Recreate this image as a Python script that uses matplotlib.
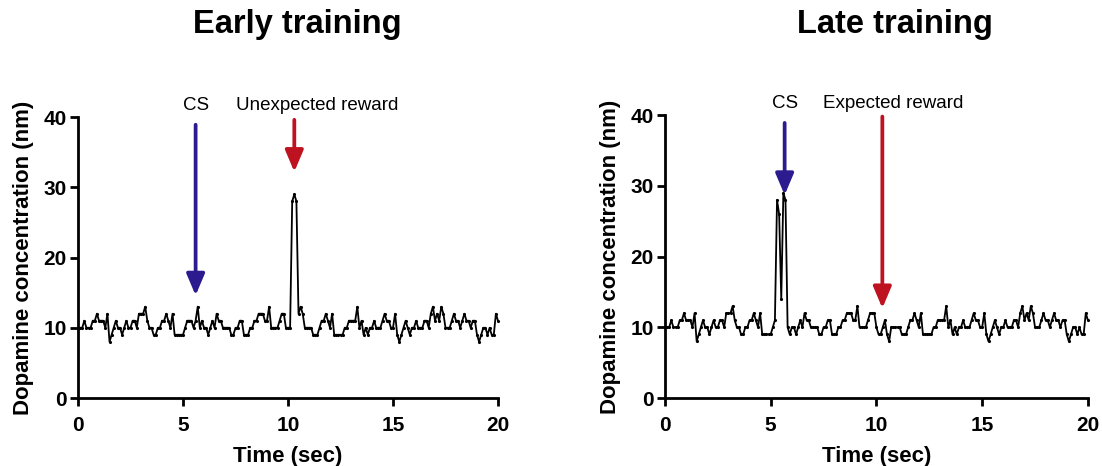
import numpy as np
import matplotlib
matplotlib.use("Agg")
import matplotlib.pyplot as plt

plt.rcParams['font.family'] = ['Liberation Sans', 'DejaVu Sans']

# time axis, 0.1 s steps
time = np.round(np.arange(0, 20.01, 0.1), 1)

# early training trace (nm), one row per second
early = [
    10, 10, 10, 11, 10, 10, 10, 11, 11, 12,
    11, 11, 11, 10, 12, 8, 9, 10, 11, 10,
    10, 9, 10, 11, 10, 10, 11, 11, 10, 12,
    12, 12, 13, 11, 10, 10, 9, 9, 10, 10,
    11, 11, 12, 11, 10, 12, 9, 9, 9, 9,
    9, 10, 11, 11, 11, 10, 11, 13, 10, 11,
    10, 10, 9, 10, 11, 10, 12, 11, 11, 10,
    10, 10, 10, 9, 9, 10, 10, 11, 11, 9,
    9, 9, 10, 10, 11, 11, 12, 12, 12, 11,
    11, 13, 10, 10, 10, 10, 11, 12, 12, 10,
    10, 10, 28, 29, 28, 12, 13, 12, 10, 10,
    10, 10, 9, 9, 9, 10, 11, 11, 12, 11,
    10, 12, 9, 9, 9, 9, 9, 10, 10, 11,
    11, 11, 11, 13, 10, 11, 9, 10, 9, 10,
    10, 11, 10, 10, 10, 11, 12, 11, 11, 10,
    10, 12, 9, 8, 9, 10, 11, 10, 9, 10,
    10, 11, 10, 10, 10, 11, 11, 10, 12, 13,
    11, 12, 11, 13, 12, 10, 10, 10, 11, 12,
    11, 11, 10, 11, 12, 11, 11, 10, 11, 11,
    9, 8, 9, 10, 10, 9, 10, 9, 9, 12,
    11,
]

# late training trace: peak moves to the CS, reward gives nothing
late = list(early)
late[52:60] = [11, 28, 26, 14, 29, 28, 10, 9]
late[98:110] = [12, 12, 10, 9, 9, 10, 11, 9, 8, 10, 10, 10]

# arrows: (x, top, tip)
early_cs = (5.6, 38.9, 14.6)
early_reward = (10.3, 39.6, 32.2)
late_cs = (5.66, 38.9, 28.7)
late_reward = (10.28, 39.8, 12.7)

blue = '#2b1b8f'
red = '#bf1220'

fig = plt.figure(figsize=(11.02, 4.66), dpi=100)
ax1 = fig.add_axes([0.0708, 0.1459, 0.3811, 0.603])
ax2 = fig.add_axes([0.6034, 0.1459, 0.3838, 0.607])


def style(ax):
    ax.set_xlim(0, 20)
    ax.set_ylim(0, 40)
    ax.set_xticks([0, 5, 10, 15, 20])
    ax.set_yticks([0, 10, 20, 30, 40])
    for s in ['top', 'right']:
        ax.spines[s].set_visible(False)
    for s in ['left', 'bottom']:
        ax.spines[s].set_linewidth(2)
    ax.tick_params(width=2, length=6, labelsize=15)
    ax.tick_params(axis='x', pad=7)
    ax.tick_params(axis='y', pad=2)
    for lab in ax.get_xticklabels() + ax.get_yticklabels():
        lab.set_fontweight('bold')
    ax.set_xlabel('Time (sec)', fontsize=16, fontweight='bold', labelpad=8)
    ax.set_ylabel('Dopamine concentration (nm)', fontsize=16,
                  fontweight='bold', labelpad=7)


def arrow(ax, a, color):
    x, top, tip = a
    ax.annotate('', xy=(x, tip), xytext=(x, top),
                arrowprops=dict(arrowstyle='-|>,head_length=1.3,head_width=0.55',
                                lw=2.7, color=color, shrinkA=0, shrinkB=0))


for ax, trace in [(ax1, early), (ax2, late)]:
    ax.plot(time, trace, color='black', lw=1.3, marker='.', markersize=2.5,
            clip_on=False)
    style(ax)

arrow(ax1, early_cs, blue)
arrow(ax1, early_reward, red)
arrow(ax2, late_cs, blue)
arrow(ax2, late_reward, red)

ax1.text(5.6, 41.6, 'CS', ha='center', va='center', fontsize=13.5)
ax1.text(11.4, 41.6, 'Unexpected reward', ha='center', va='center', fontsize=13.5)
ax2.text(5.66, 41.6, 'CS', ha='center', va='center', fontsize=13.5)
ax2.text(10.8, 41.7, 'Expected reward', ha='center', va='center', fontsize=13.5)

fig.text(297 / 1102, 1 - 25 / 466, 'Early training', ha='center', va='center',
         fontsize=23.5, fontweight='bold')
fig.text(895 / 1102, 1 - 25 / 466, 'Late training', ha='center', va='center',
         fontsize=23.5, fontweight='bold')

fig.savefig('out.png', dpi=100)
